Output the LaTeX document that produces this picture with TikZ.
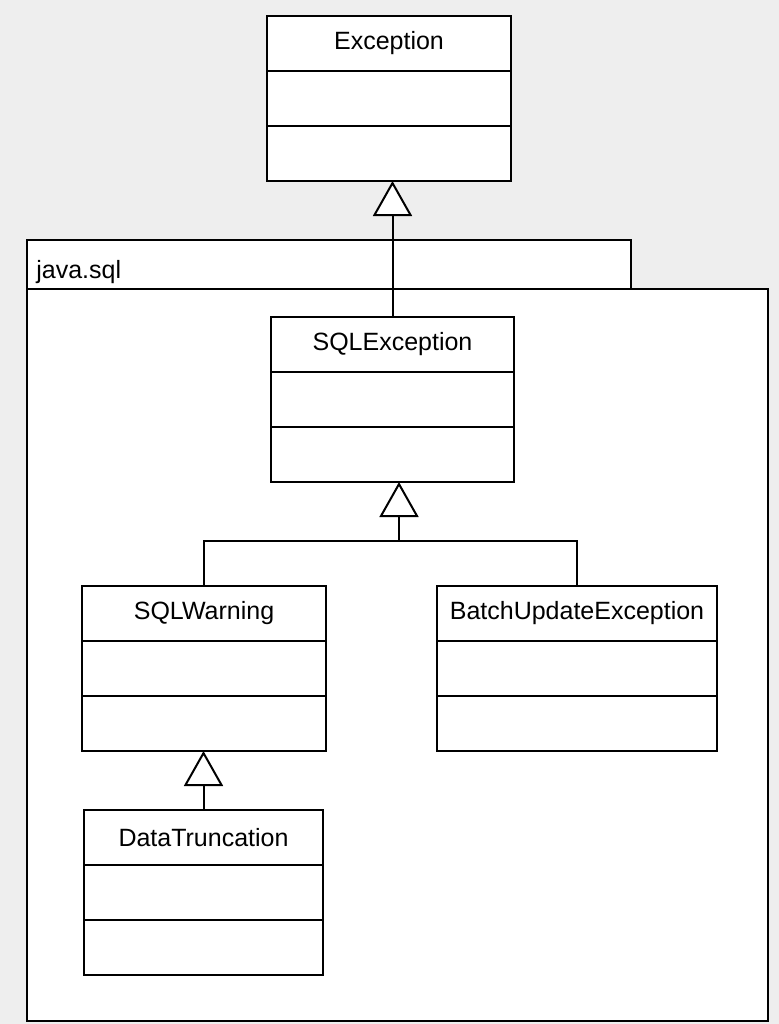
\documentclass[tikz,border=0pt]{standalone}
\usepackage{fontspec}
\setmainfont{Liberation Sans}
\usetikzlibrary{arrows.meta}

\definecolor{bggray}{HTML}{EEEEEE}

\tikzset{
  classname/.style={draw, fill=white, line width=1pt, inner sep=0pt, outer sep=0pt,
    minimum height=27.5pt, font=\fontsize{12.5}{14}\selectfont},
  classpart/.style={draw, fill=white, line width=1pt, inner sep=0pt, outer sep=0pt,
    minimum height=27.5pt},
  pkg/.style={draw, fill=white, line width=1.2pt},
  link/.style={line width=1pt},
  inherits/.style={line width=1pt, -{Triangle[open, fill=white, length=17.5pt, width=19.5pt]}},
}

% name, position, width, title
\newcommand{\umlclass}[4]{%
  \node[classname, minimum width=#3] (#1) at #2 {#4};
  \node[classpart, minimum width=#3, anchor=north] (#1-attr) at (#1.south) {};
  \node[classpart, minimum width=#3, anchor=north] (#1-ops) at (#1-attr.south) {};
}

\begin{document}
\begin{tikzpicture}[x=0.5pt, y=-0.5pt]
    \useasboundingbox (0,0) rectangle (779,1024);
    \fill[bggray] (0,0) rectangle (779,1024);

    % package java.sql
    \draw[pkg] (27,240) rectangle (631,289);
    \draw[pkg] (27,289) rectangle (768,1021);
    \node[anchor=base west, inner sep=0pt, font=\fontsize{12.5}{14}\selectfont] (pkgname) at (36,278) {java.sql};

    \umlclass{exc}{(389,43.5)}{122pt}{Exception}
    \umlclass{sqlex}{(392.5,344.5)}{121.5pt}{SQLException}
    \umlclass{warn}{(204,613.5)}{122pt}{SQLWarning}
    \umlclass{batch}{(577,613.5)}{140pt}{BatchUpdateException}
    \umlclass{trunc}{(203.5,837.5)}{119.5pt}{DataTruncation}

    \draw[inherits] (sqlex.north) -- (sqlex.north |- exc-ops.south);

    \coordinate (fork) at (399,541);
    \draw[link] (warn.north) |- (fork);
    \draw[link] (batch.north) |- (fork);
    \draw[inherits] (fork) -- (fork |- sqlex-ops.south);

    \draw[inherits] (trunc.north) -- (trunc.north |- warn-ops.south);
\end{tikzpicture}
\end{document}
